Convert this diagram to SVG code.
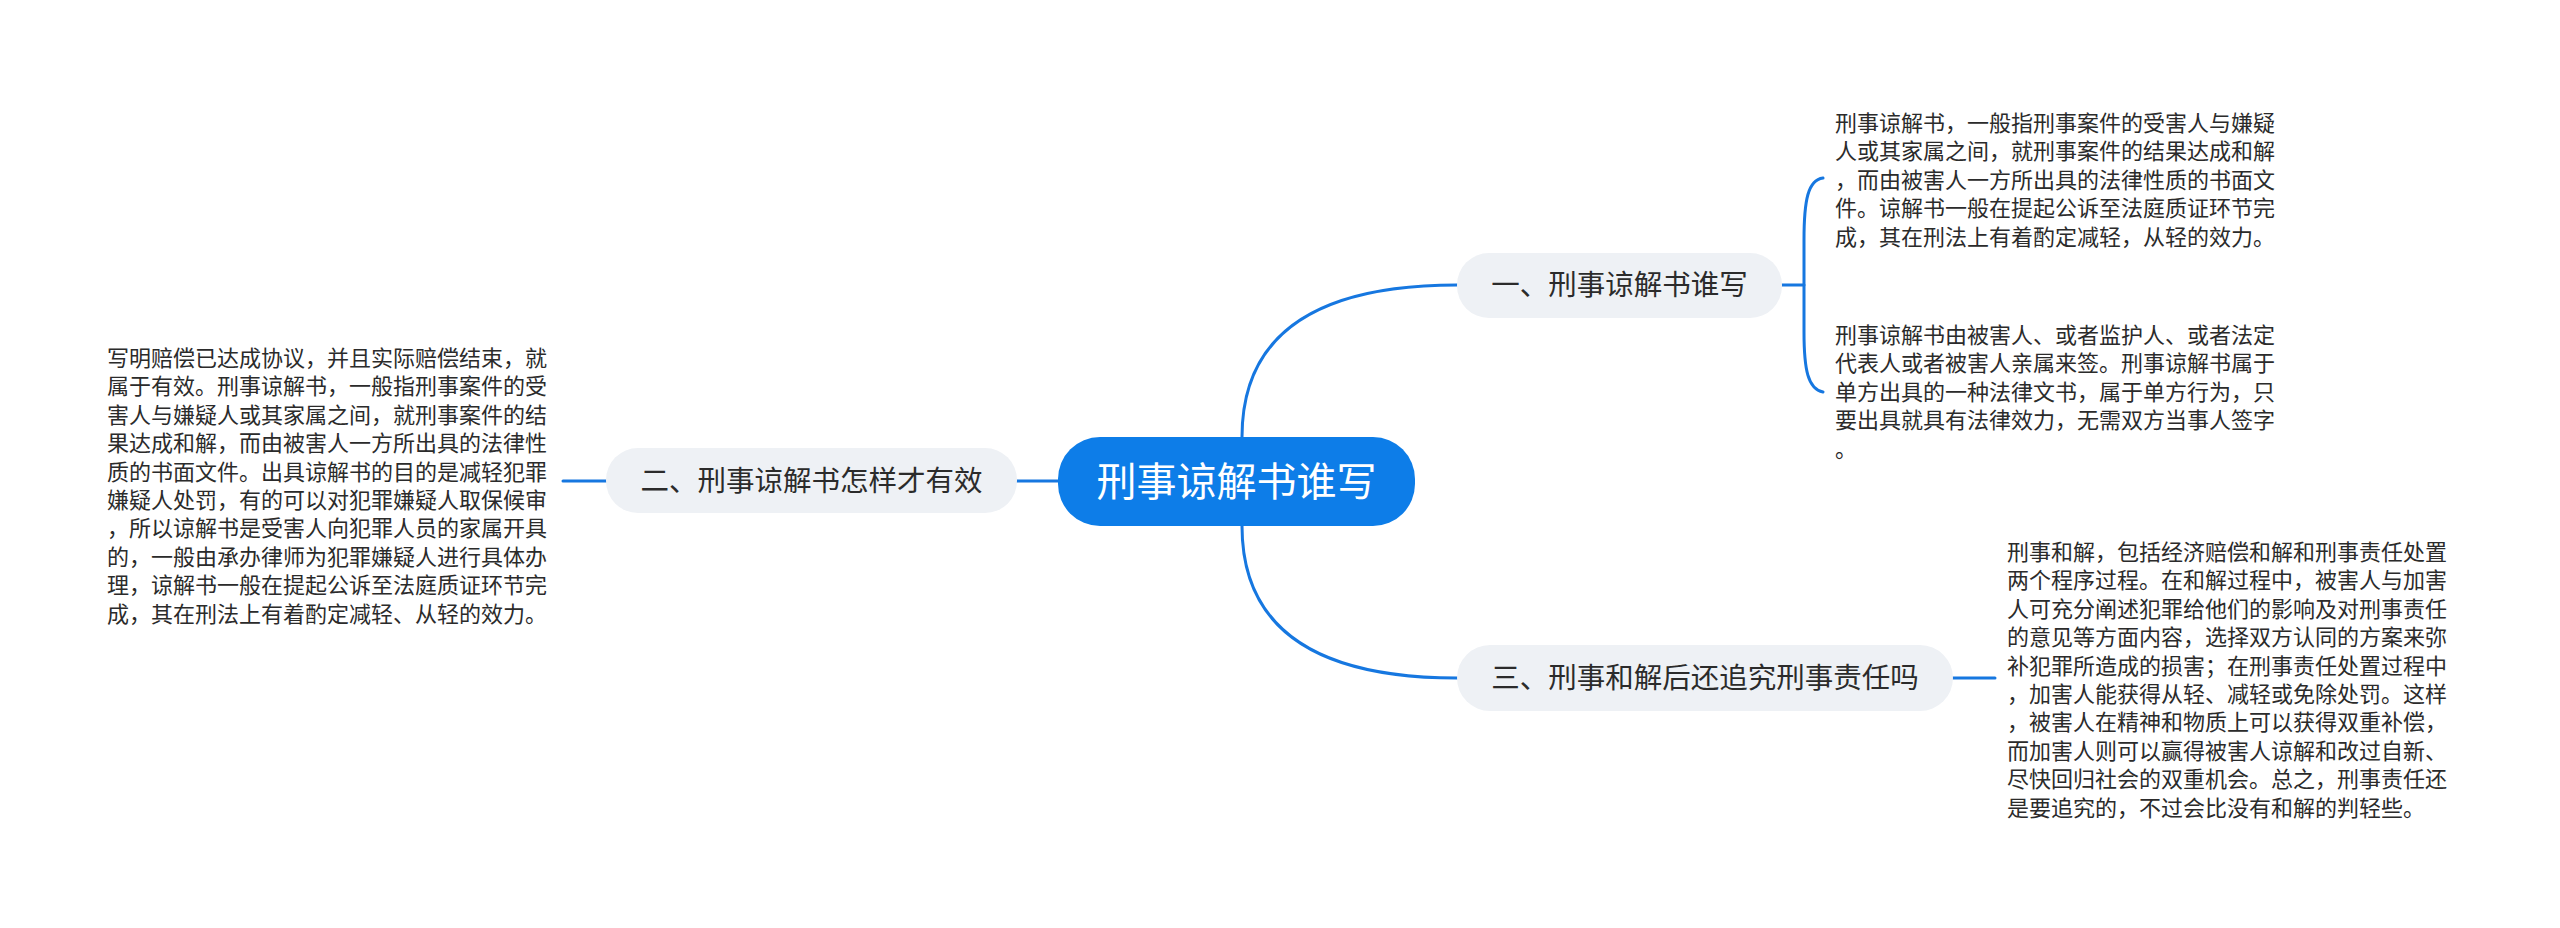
<svg xmlns="http://www.w3.org/2000/svg" width="2560" height="928" viewBox="0 0 2560 928">
<style>
.conn{fill:none;stroke:#1677e0;stroke-width:3;stroke-linecap:round}
.sub{fill:#eef1f5}
.subt{font-family:"Noto Sans CJK SC","Noto Sans",sans-serif;font-size:28.5px;fill:#2b2b2b;text-anchor:middle}
.leaf{font-family:"Noto Sans CJK SC","Noto Sans",sans-serif;font-size:22px;fill:#2b2b2b}
.root{fill:#0d7de8}
.roott{font-family:"Noto Sans CJK SC","Noto Sans",sans-serif;font-size:40px;fill:#ffffff;text-anchor:middle}
</style>
<rect width="2560" height="928" fill="#ffffff"/>
<g id="connectors">
<path class="conn" d="M1242 437 Q1242 285 1457 285"/>
<path class="conn" d="M1242 526 Q1242 678 1457 678"/>
<path class="conn" d="M1058 481 L1017 481"/>
<path class="conn" d="M606 481 L563 481"/>
<path class="conn" d="M1953 678 L1995 678"/>
<path class="conn" d="M1782 285 L1804 285"/>
<path class="conn" d="M1823 178 C1808 180 1804 200 1804 240 L1804 332 C1804 370 1808 389 1823 392"/>
</g>
<g id="root">
<rect class="root" x="1058" y="437" width="357" height="89" rx="42"/>
<text class="roott" x="1236.5" y="496">刑事谅解书谁写</text>
</g>
<g id="node1">
<rect class="sub" x="1457" y="253" width="325" height="65" rx="32"/>
<text class="subt" x="1619.5" y="295">一、刑事谅解书谁写</text>
</g>
<g id="node2">
<rect class="sub" x="606" y="448" width="411" height="65" rx="32"/>
<text class="subt" x="811.5" y="491">二、刑事谅解书怎样才有效</text>
</g>
<g id="node3">
<rect class="sub" x="1457" y="645" width="496" height="66" rx="33"/>
<text class="subt" x="1705" y="688">三、刑事和解后还追究刑事责任吗</text>
</g>
<g id="leaf1">
<text class="leaf" x="1835" y="131">
<tspan x="1835" y="131">刑事谅解书，一般指刑事案件的受害人与嫌疑</tspan>
<tspan x="1835" y="159.4">人或其家属之间，就刑事案件的结果达成和解</tspan>
<tspan x="1835" y="187.8">，而由被害人一方所出具的法律性质的书面文</tspan>
<tspan x="1835" y="216.2">件。谅解书一般在提起公诉至法庭质证环节完</tspan>
<tspan x="1835" y="244.6">成，其在刑法上有着酌定减轻，从轻的效力。</tspan>
</text>
</g>
<g id="leaf2">
<text class="leaf" x="1835" y="343">
<tspan x="1835" y="343">刑事谅解书由被害人、或者监护人、或者法定</tspan>
<tspan x="1835" y="371.4">代表人或者被害人亲属来签。刑事谅解书属于</tspan>
<tspan x="1835" y="399.8">单方出具的一种法律文书，属于单方行为，只</tspan>
<tspan x="1835" y="428.2">要出具就具有法律效力，无需双方当事人签字</tspan>
<tspan x="1835" y="456.6">。</tspan>
</text>
</g>
<g id="leaf3">
<text class="leaf" x="2007" y="560">
<tspan x="2007" y="560">刑事和解，包括经济赔偿和解和刑事责任处置</tspan>
<tspan x="2007" y="588.4">两个程序过程。在和解过程中，被害人与加害</tspan>
<tspan x="2007" y="616.8">人可充分阐述犯罪给他们的影响及对刑事责任</tspan>
<tspan x="2007" y="645.2">的意见等方面内容，选择双方认同的方案来弥</tspan>
<tspan x="2007" y="673.6">补犯罪所造成的损害；在刑事责任处置过程中</tspan>
<tspan x="2007" y="702">，加害人能获得从轻、减轻或免除处罚。这样</tspan>
<tspan x="2007" y="730.4">，被害人在精神和物质上可以获得双重补偿，</tspan>
<tspan x="2007" y="758.8">而加害人则可以赢得被害人谅解和改过自新、</tspan>
<tspan x="2007" y="787.2">尽快回归社会的双重机会。总之，刑事责任还</tspan>
<tspan x="2007" y="815.6">是要追究的，不过会比没有和解的判轻些。</tspan>
</text>
</g>
<g id="leaf4">
<text class="leaf" x="107" y="366">
<tspan x="107" y="366">写明赔偿已达成协议，并且实际赔偿结束，就</tspan>
<tspan x="107" y="394.4">属于有效。刑事谅解书，一般指刑事案件的受</tspan>
<tspan x="107" y="422.8">害人与嫌疑人或其家属之间，就刑事案件的结</tspan>
<tspan x="107" y="451.2">果达成和解，而由被害人一方所出具的法律性</tspan>
<tspan x="107" y="479.6">质的书面文件。出具谅解书的目的是减轻犯罪</tspan>
<tspan x="107" y="508">嫌疑人处罚，有的可以对犯罪嫌疑人取保候审</tspan>
<tspan x="107" y="536.4">，所以谅解书是受害人向犯罪人员的家属开具</tspan>
<tspan x="107" y="564.8">的，一般由承办律师为犯罪嫌疑人进行具体办</tspan>
<tspan x="107" y="593.2">理，谅解书一般在提起公诉至法庭质证环节完</tspan>
<tspan x="107" y="621.6">成，其在刑法上有着酌定减轻、从轻的效力。</tspan>
</text>
</g>
</svg>
